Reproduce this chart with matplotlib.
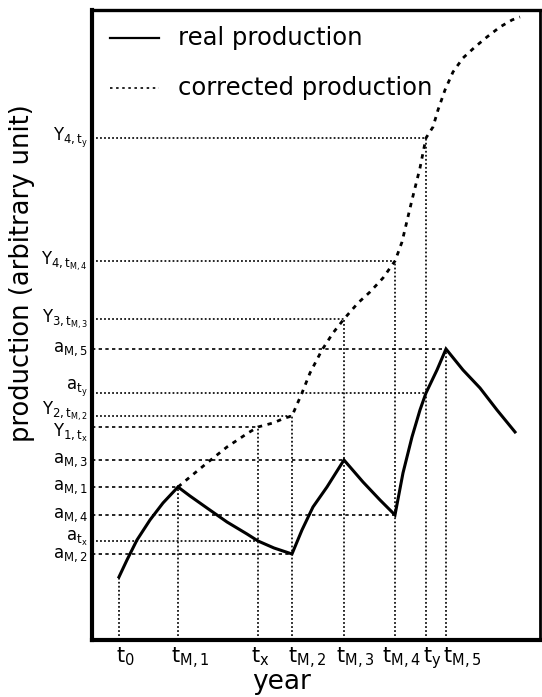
import matplotlib
matplotlib.use('Agg')
import matplotlib.pyplot as plt

plt.rcParams['font.family'] = ['DejaVu Sans']
plt.rcParams['mathtext.fontset'] = 'dejavusans'
plt.rcParams['lines.scale_dashes'] = False

# key years on the time axis (arbitrary units) and their labels
t_pos = [2.7, 8.6, 16.6, 20.0, 25.2, 30.3, 33.4, 35.4]
t_labels = ['t_{0}', 't_{M,1}', 't_{x}', 't_{M,2}', 't_{M,3}', 't_{M,4}', 't_{y}', 't_{M,5}']
t_shift = [-2, -5, -5, -3, -6, -9, -2, -2]   # hand lettering sits a little off the line (pt)
t_top = [6.3, 15.3, 21.3, 22.4, 32.1, 37.9, 50.2, 29.1]   # height of the point each year refers to

# production levels marked on the y axis
lev_labels = ['Y_{4,t_{y}}', 'Y_{4,t_{M,4}}', 'Y_{3,t_{M,3}}', 'a_{M,5}', 'a_{t_{y}}',
              'Y_{2,t_{M,2}}', 'Y_{1,t_{x}}', 'a_{M,3}', 'a_{M,1}', 'a_{M,4}', 'a_{t_{x}}', 'a_{M,2}']
lev_vals = [50.2, 37.9, 32.1, 29.1, 24.7, 22.4, 21.3, 18.0, 15.3, 12.5, 9.9, 8.6]
lev_year = [33.4, 30.3, 25.2, 35.4, 33.4, 20.0, 16.6, 25.2, 8.6, 30.3, 16.6, 20.0]
lev_dash = [False, False, False, True, False, False, True, True, True, True, False, True]
lev_raise = [0, 0, 0, 0, 3.5, 3.5, -4.5, 0, 0, 0, 2, -1]   # pt, keeps close labels apart

# real production
real_x = [2.7, 3.5, 4.5, 5.8, 7.1, 8.6, 9.8, 11.5, 13.5, 15.5, 16.6, 18.2, 20.0,
          21.0, 22.1, 23.5, 25.2, 27.1, 28.8, 30.3, 31.1, 32.0, 32.8, 33.4, 34.5,
          35.4, 37.1, 38.8, 40.5, 42.3]
real_y = [6.3, 8.0, 10.0, 12.0, 13.7, 15.3, 14.4, 13.2, 11.8, 10.6, 9.9, 9.2, 8.6,
          11.0, 13.3, 15.3, 18.0, 15.8, 14.0, 12.5, 16.7, 20.3, 23.0, 24.7, 27.0,
          29.1, 27.0, 25.2, 23.0, 20.8]

# corrected production
corr_x = [8.6, 9.8, 11.5, 13.5, 15.6, 16.6, 18.1, 19.3, 20.0, 21.0, 21.8, 23.0, 24.1,
          25.2, 26.6, 27.8, 29.1, 30.3, 30.6, 31.0, 32.0, 32.8, 33.4, 34.1, 34.6,
          35.3, 36.1, 37.1, 38.3, 39.5, 40.8, 42.0, 42.8]
corr_y = [15.3, 16.3, 17.7, 19.3, 20.7, 21.3, 21.7, 22.2, 22.4, 24.7, 26.7, 29.0, 30.7,
          32.1, 33.7, 34.8, 36.2, 37.9, 38.7, 39.8, 44.0, 47.2, 50.2, 51.3, 53.0,
          55.0, 56.8, 58.2, 59.3, 60.3, 61.3, 62.0, 62.3]

DOT = (0, (1.3, 1.6))
DASH = (0, (2.4, 2.4))

fig = plt.figure(figsize=(5.42, 6.97), dpi=100)
ax = fig.add_axes([0.1697, 0.0818, 0.8266, 0.9039])
ax.set_xlim(0, 44.8)
ax.set_ylim(0, 63.0)
ax.set_xticks([])
ax.set_yticks([])
for side, lw in [('left', 3.0), ('bottom', 3.0), ('top', 2.4), ('right', 2.0)]:
    ax.spines[side].set_linewidth(lw)

# drop lines to the time axis
for x, top in zip(t_pos, t_top):
    ax.plot([x, x], [0, top], color='k', lw=1.2, linestyle=DOT)

# lines to the production axis
for v, x, d in zip(lev_vals, lev_year, lev_dash):
    ax.plot([0, x], [v, v], color='k', lw=1.2, linestyle=DASH if d else DOT)

ax.plot(real_x, real_y, color='k', lw=2.2, solid_joinstyle='miter')
ax.plot(corr_x, corr_y, color='k', lw=2.0, linestyle=(0, (3.2, 4.0)))

for x, lab, dx in zip(t_pos, t_labels, t_shift):
    ax.annotate('$\\mathrm{%s}$' % lab, xy=(x, 0), xycoords=('data', 'axes fraction'),
                xytext=(dx, -4), textcoords='offset points',
                ha='left', va='top', fontsize=15)

for v, lab, dy in zip(lev_vals, lev_labels, lev_raise):
    ax.annotate('$\\mathrm{%s}$' % lab, xy=(0, v), xycoords=('axes fraction', 'data'),
                xytext=(-3, dy), textcoords='offset points',
                ha='right', va='center', fontsize=12)

# legend drawn by hand
ax.plot([0.040, 0.1496], [0.9556, 0.9556], transform=ax.transAxes, color='k', lw=1.6)
ax.text(0.192, 0.9556, 'real production', transform=ax.transAxes, va='center', fontsize=17.5)
ax.plot([0.040, 0.1496], [0.8762, 0.8762], transform=ax.transAxes, color='k', lw=1.2,
        linestyle=(0, (1.8, 2.6)))
ax.text(0.192, 0.8762, 'corrected production', transform=ax.transAxes, va='center', fontsize=17.5)

fig.text(22 / 542, 1 - 273 / 697, 'production (arbitrary unit)', rotation=90,
         ha='center', va='center', fontsize=18.5)
fig.text(282 / 542, 1 - 682 / 697, 'year', ha='center', va='center', fontsize=19)

fig.savefig('out.png', dpi=100)
